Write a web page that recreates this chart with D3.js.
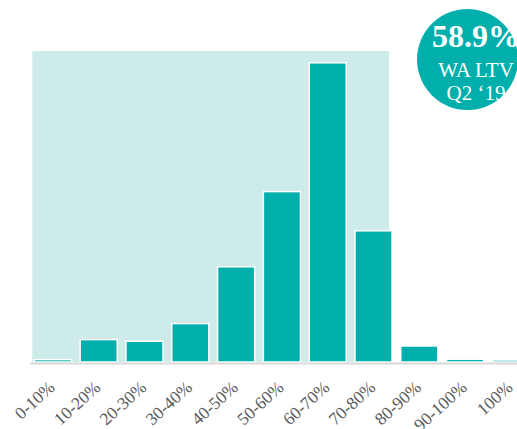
<!DOCTYPE html>
<html>
<head>
<meta charset="utf-8">
<script src="https://cdn.jsdelivr.net/npm/d3@7"></script>
<style>
  body { margin: 0; background: #fff; }
  svg { display: block; }
</style>
</head>
<body>
<div id="chart"></div>
<script>
const categories = ["0-10%", "10-20%", "20-30%", "30-40%", "40-50%", "50-60%", "60-70%", "70-80%", "80-90%", "90-100%", "100%"];
const shares = [0.3, 2.8, 2.6, 4.8, 11.9, 21.3, 37.4, 16.4, 2.0, 0.35, 0.25];
const highlightFrom = "0-10%";
const highlightTo = "70-80%";
const badgeLines = ["58.9%", "WA LTV", "Q2 \u201819"];

const width = 517;
const height = 429;
const teal = "#00afac";

const svg = d3.select("#chart")
  .append("svg")
  .attr("width", width)
  .attr("height", height);

const x = d3.scaleBand()
  .domain(categories)
  .range([30, 533.8])
  .paddingInner(0.19)
  .paddingOuter(0.095);

const y = d3.scaleLinear()
  .domain([0, 40])
  .range([362, 42]);

// shaded range behind the bars
svg.append("rect")
  .attr("x", x(highlightFrom) - 2)
  .attr("y", 51)
  .attr("width", x(highlightTo) + x.bandwidth() - x(highlightFrom) - 1)
  .attr("height", y(0) - 51)
  .attr("fill", "#cdebe9");

svg.selectAll(".bar")
  .data(categories)
  .enter()
  .append("rect")
  .attr("class", "bar")
  .attr("x", (d) => x(d))
  .attr("y", (d, i) => y(shares[i]))
  .attr("width", x.bandwidth())
  .attr("height", (d, i) => y(0) - y(shares[i]))
  .attr("fill", teal)
  .attr("stroke", "#fff")
  .attr("stroke-width", 1.5);

// baseline
svg.append("line")
  .attr("x1", 30)
  .attr("x2", width)
  .attr("y1", y(0) + 1.5)
  .attr("y2", y(0) + 1.5)
  .attr("stroke", "#d9d9d9")
  .attr("stroke-width", 2);

// category labels
svg.selectAll(".label")
  .data(categories)
  .enter()
  .append("text")
  .attr("class", "label")
  .attr("text-anchor", "end")
  .attr("transform", (d) => `translate(${x(d) + x.bandwidth() / 2 + 3},${y(0) + 27}) rotate(-42)`)
  .attr("font-family", "'Liberation Serif', 'Times New Roman', serif")
  .attr("font-size", 17.5)
  .attr("fill", "#595959")
  .text((d) => d);

// badge
const badge = svg.append("g");
badge.append("circle")
  .attr("cx", 467.5)
  .attr("cy", 59.5)
  .attr("r", 50.5)
  .attr("fill", teal);

badge.selectAll("text")
  .data(badgeLines)
  .enter()
  .append("text")
  .attr("x", 476)
  .attr("y", (d, i) => [47, 77, 100][i])
  .attr("text-anchor", "middle")
  .attr("font-family", "'Liberation Serif', 'Times New Roman', serif")
  .attr("font-size", (d, i) => (i === 0 ? 32 : 21))
  .attr("font-weight", (d, i) => (i === 0 ? "bold" : "normal"))
  .attr("fill", "#fff")
  .text((d) => d);
</script>
</body>
</html>
